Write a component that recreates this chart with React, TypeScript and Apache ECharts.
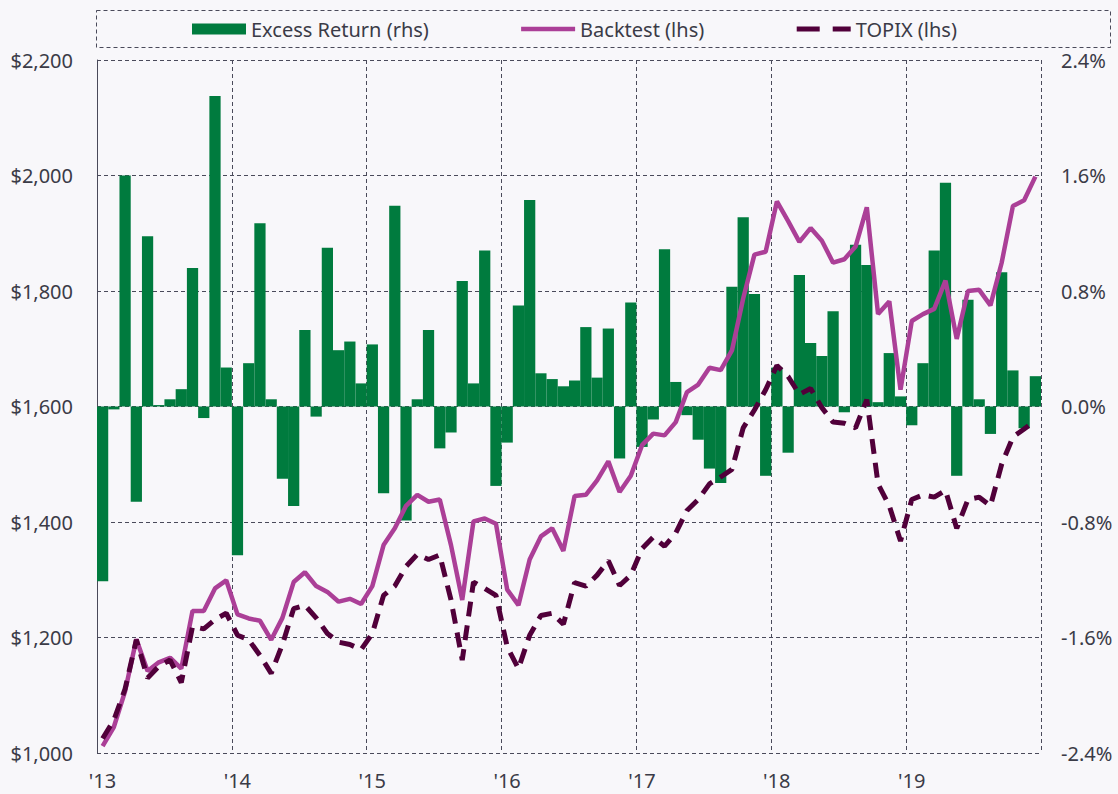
import React, { useEffect, useRef } from "react";
import * as echarts from "echarts";

// ---- data ----
const YEARS = ["2013", "2014", "2015", "2016", "2017", "2018", "2019"];
const MONTHS = ["01", "02", "03", "04", "05", "06", "07", "08", "09", "10", "11", "12"];
const CATEGORIES: string[] = YEARS.flatMap((y) => MONTHS.map((m) => `${y}-${m}`));

const YEAR_TICK_LABELS = ["'13", "'14", "'15", "'16", "'17", "'18", "'19"];

// Excess Return (rhs), %
const EXCESS_RETURN = [
  -1.21, -0.02, 1.6, -0.66, 1.18, 0.01, 0.05, 0.12, 0.96, -0.08, 2.15, 0.27,
  -1.03, 0.3, 1.27, 0.05, -0.5, -0.69, 0.53, -0.07, 1.1, 0.39, 0.45, 0.16,
  0.43, -0.6, 1.39, -0.79, 0.05, 0.53, -0.29, -0.18, 0.87, 0.16, 1.08, -0.55,
  -0.25, 0.7, 1.43, 0.23, 0.19, 0.14, 0.18, 0.55, 0.2, 0.54, -0.36, 0.72,
  -0.28, -0.09, 1.09, 0.17, -0.06, -0.23, -0.43, -0.53, 0.83, 1.31, 0.78, -0.48,
  0.27, -0.32, 0.91, 0.44, 0.35, 0.66, -0.04, 1.12, 0.98, 0.03, 0.37, 0.07,
  -0.13, 0.3, 1.08, 1.55, -0.48, 0.74, 0.05, -0.19, 0.93, 0.25, -0.15, 0.21,
];

// Backtest (lhs), $
const BACKTEST = [
  1012, 1045, 1107, 1197, 1142, 1157, 1165, 1146, 1246, 1246, 1285, 1299,
  1240, 1233, 1229, 1196, 1234, 1296, 1313, 1289, 1279, 1262, 1267, 1258,
  1289, 1360, 1389, 1428, 1447, 1435, 1439, 1360, 1265, 1401, 1406, 1397,
  1283, 1256, 1335, 1375, 1389, 1350, 1445, 1447, 1472, 1505, 1452, 1480,
  1533, 1553, 1550, 1573, 1625, 1638, 1667, 1663, 1697, 1787, 1863, 1868,
  1955, 1921, 1885, 1909, 1887, 1849, 1855, 1877, 1945, 1760, 1782, 1629,
  1748, 1760, 1769, 1818, 1717, 1800, 1802, 1775, 1849, 1947, 1957, 1998,
];

// TOPIX (lhs), $
const TOPIX = [
  1025, 1057, 1111, 1196, 1130, 1150, 1161, 1122, 1219, 1215, 1231, 1242,
  1204, 1196, 1169, 1138, 1188, 1250, 1256, 1234, 1207, 1192, 1188, 1179,
  1207, 1273, 1289, 1323, 1344, 1335, 1343, 1265, 1161, 1296, 1285, 1273,
  1184, 1146, 1204, 1238, 1242, 1223, 1295, 1289, 1308, 1333, 1290, 1308,
  1354, 1374, 1358, 1381, 1420, 1439, 1466, 1478, 1491, 1563, 1594, 1629,
  1671, 1652, 1621, 1631, 1598, 1573, 1571, 1563, 1612, 1466, 1428, 1367,
  1439, 1447, 1443, 1455, 1389, 1439, 1443, 1428, 1500, 1547, 1561, 1576,
];

// ---- styles ----
const BG = "#f8f7fa";
const GREEN = "#007b3e";
const PINK = "#ab3f97";
const PURPLE = "#51003a";
const GRID = "#4a4a5a";
const TEXT = "#3b3b47";
const FONT = "'Noto Sans', 'Open Sans', sans-serif";

export default function App() {
  const ref = useRef<HTMLDivElement>(null);

  useEffect(() => {
    if (!ref.current) return;
    const chart = echarts.init(ref.current, undefined, { renderer: "svg" });
    const n = CATEGORIES.length;

    const option = {
      animation: false,
      backgroundColor: BG,
      textStyle: { fontFamily: FONT },
      grid: { left: 97, right: 77, top: 60, bottom: 41, containLabel: false },
      legend: {
        top: 19,
        left: 192,
        padding: 0,
        itemWidth: 54,
        itemHeight: 11,
        itemGap: 90,
        textStyle: { fontSize: 20, color: TEXT, fontFamily: FONT },
        data: [
          { name: "Excess Return (rhs)", icon: "rect" },
          {
            name: "Backtest (lhs)",
            itemStyle: { opacity: 0 },
            lineStyle: { width: 4.5, color: PINK },
          },
          {
            name: "TOPIX (lhs)",
            itemStyle: { opacity: 0 },
            lineStyle: { width: 5, color: PURPLE, type: [23, 13] },
          },
        ],
      },
      graphic: [
        {
          type: "rect",
          silent: true,
          z: -1,
          shape: { x: 96.5, y: 10.5, width: 1014, height: 37 },
          style: { fill: "none", stroke: GRID, lineWidth: 1, lineDash: [4, 3] },
        },
      ],
      xAxis: [
        {
          type: "category",
          data: CATEGORIES,
          boundaryGap: true,
          show: false,
        },
        {
          type: "value",
          min: 0,
          max: n,
          interval: 12,
          position: "bottom",
          axisLine: { show: false },
          axisTick: { show: false },
          splitLine: { show: true, lineStyle: { color: GRID, width: 1, type: [4, 3] } },
          axisLabel: {
            fontSize: 20,
            color: TEXT,
            fontFamily: FONT,
            margin: 17,
            padding: [0, 0, 0, 11],
            formatter: (v: number) => {
              const k = Math.round(v / 12);
              return k < YEAR_TICK_LABELS.length ? YEAR_TICK_LABELS[k] : "";
            },
          },
        },
      ],
      yAxis: [
        {
          type: "value",
          min: 1000,
          max: 2200,
          interval: 200,
          position: "left",
          axisLine: { show: true, lineStyle: { color: GRID, width: 1 } },
          axisTick: { show: false },
          splitLine: { show: true, lineStyle: { color: GRID, width: 1, type: [4, 3] } },
          axisLabel: {
            fontSize: 20,
            color: TEXT,
            fontFamily: FONT,
            margin: 24,
            formatter: (v: number) => "$" + v.toLocaleString("en-US"),
          },
        },
        {
          type: "value",
          min: -2.4,
          max: 2.4,
          interval: 0.8,
          position: "right",
          axisLine: { show: false },
          axisTick: { show: false },
          splitLine: { show: false },
          axisLabel: {
            fontSize: 20,
            color: TEXT,
            fontFamily: FONT,
            margin: 20,
            formatter: (v: number) => (Math.abs(v) < 1e-9 ? "0.0" : v.toFixed(1)) + "%",
          },
        },
      ],
      series: [
        {
          name: "Excess Return (rhs)",
          type: "bar",
          xAxisIndex: 0,
          yAxisIndex: 1,
          data: EXCESS_RETURN,
          barCategoryGap: "0%",
          itemStyle: { color: GREEN },
          z: 2,
        },
        {
          name: "Backtest (lhs)",
          type: "line",
          xAxisIndex: 0,
          yAxisIndex: 0,
          data: BACKTEST,
          symbol: "none",
          lineStyle: { color: PINK, width: 4.5 },
          itemStyle: { color: PINK },
          z: 3,
        },
        {
          name: "TOPIX (lhs)",
          type: "line",
          xAxisIndex: 0,
          yAxisIndex: 0,
          data: TOPIX,
          symbol: "none",
          lineStyle: { color: PURPLE, width: 5, type: [15, 9] },
          itemStyle: { color: PURPLE },
          z: 4,
        },
      ],
    };

    chart.setOption(option as any);
    return () => chart.dispose();
  }, []);

  return (
    <div
      style={{ position: "fixed", left: 0, top: 0, width: 1118, height: 794, background: BG }}
    >
      <div ref={ref} style={{ width: 1118, height: 794 }} />
    </div>
  );
}
